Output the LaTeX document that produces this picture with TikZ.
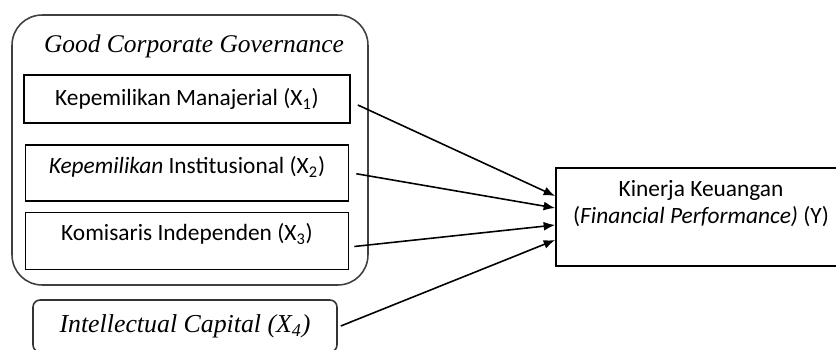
\documentclass[tikz,border=0pt]{standalone}
\usepackage{fontspec}
\setmainfont{Carlito}
\newfontfamily\titlefont{Liberation Serif}
\usetikzlibrary{arrows.meta,positioning}

\begin{document}
\begin{tikzpicture}[x=0.02cm, y=-0.02cm,
  groupbox/.style={draw=black!75, line width=0.9pt, rounded corners=0.6cm, minimum width=7.12cm, minimum height=5.4cm},
  varbox/.style={draw, line width=1pt, align=center, inner sep=0pt, font=\fontsize{13.3}{15.4}\selectfont},
  upbox/.style={text height=0.7em, text depth=0.6em},
  capbox/.style={draw=black!80, line width=0.9pt, rounded corners=0.14cm, minimum width=6.08cm, minimum height=1.04cm, font=\titlefont\itshape\fontsize{14.7}{18}\selectfont},
  outbox/.style={draw, line width=1pt, align=center, minimum width=5.8cm, minimum height=1.96cm, text height=1.85em, text depth=1.1em, font=\fontsize{13.3}{15.4}\selectfont},
  heading/.style={font=\titlefont\itshape\fontsize{14.5}{18}\selectfont},
  edge/.style={-{Latex[length=2.3mm,width=1.8mm]}, line width=0.9pt}
]
\clip (0,0) rectangle (836,349);
\node[groupbox] (gcg) at (190,150) {};
\node[heading] (gcgtitle) at (194,46) {Good Corporate Governance};
\node[varbox, minimum width=6.52cm, minimum height=0.96cm] (km) at (187,99) {Kepemilikan Manajerial (X\textsubscript{1})};
\node[varbox, upbox, minimum width=6.46cm, minimum height=1.12cm, below=0.4cm of km] (ki) {\textit{Kepemilikan} Institusional (X\textsubscript{2})};
\node[varbox, upbox, text depth=0.75em, minimum width=6.46cm, minimum height=1.14cm, below=0.2cm of ki] (kin) {Komisaris Independen (X\textsubscript{3})};
\node[capbox] (ic) at (185,326) {Intellectual Capital (X\textsubscript{4})};
\node[outbox] (kk) at (701,217) {Kinerja Keuangan\\(\textit{Financial Performance)} (Y)};

\draw[edge] ([xshift=0.14cm,yshift=-0.12cm]km.east) -- ([yshift=0.42cm]kk.west);
\draw[edge] ([xshift=0.14cm,yshift=-0.02cm]ki.east) -- ([yshift=0.18cm]kk.west);
\draw[edge] ([xshift=0.1cm,yshift=-0.11cm]kin.east) -- ([yshift=-0.16cm]kk.west);
\draw[edge] ([xshift=0.06cm]ic.east) -- ([yshift=-0.46cm]kk.west);
\end{tikzpicture}
\end{document}
